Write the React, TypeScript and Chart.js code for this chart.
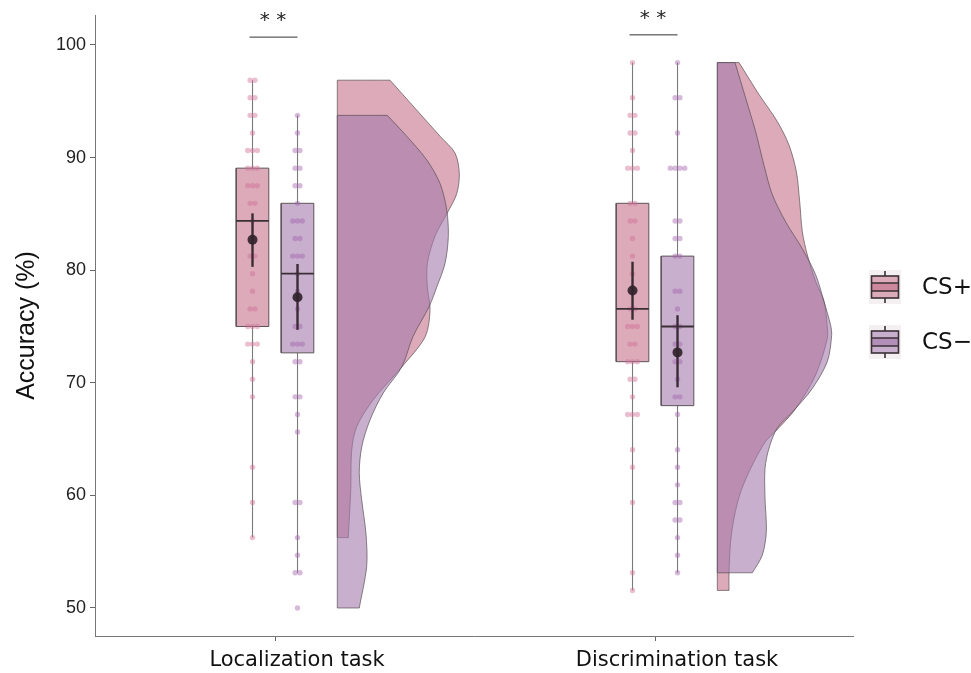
import React, { useEffect, useRef } from "react";
import { Chart, registerables } from "chart.js";

Chart.register(...registerables);

// ---------------- data ----------------
const categories = ["Localization task", "Discrimination task"];
const groups = ["CS+", "CS\u2212"];
const yTicks = [50, 60, 70, 80, 90, 100];

// individual accuracies (%)
const locCSplus = [96.875, 96.875, 95.3125, 95.3125, 93.75, 93.75, 92.1875, 90.625, 90.625, 90.625, 89.0625, 89.0625, 89.0625, 87.5, 87.5, 87.5, 85.9375, 85.9375, 84.375, 82.8125, 81.25, 81.25, 79.6875, 78.125, 76.5625, 76.5625, 75, 75, 75, 73.4375, 73.4375, 73.4375, 71.875, 70.3125, 68.75, 62.5, 59.375, 56.25];
const locCSminus = [93.75, 92.1875, 90.625, 90.625, 89.0625, 89.0625, 87.5, 87.5, 85.9375, 84.375, 84.375, 84.375, 82.8125, 82.8125, 81.25, 81.25, 81.25, 79.6875, 78.125, 76.5625, 75, 75, 73.4375, 73.4375, 73.4375, 71.875, 71.875, 68.75, 68.75, 67.1875, 65.625, 59.375, 59.375, 56.25, 54.6875, 53.125, 53.125, 50];
const discCSplus = [98.4375, 95.3125, 93.75, 93.75, 92.1875, 92.1875, 90.625, 89.0625, 89.0625, 89.0625, 85.9375, 85.9375, 84.375, 84.375, 82.8125, 81.25, 79.6875, 76.5625, 76.5625, 75, 75, 75, 73.4375, 73.4375, 71.875, 71.875, 71.875, 70.3125, 70.3125, 68.75, 67.1875, 67.1875, 67.1875, 64.0625, 62.5, 59.375, 53.125, 51.5625];
const discCSminus = [98.4375, 95.3125, 95.3125, 92.1875, 89.0625, 89.0625, 89.0625, 89.0625, 84.375, 84.375, 82.8125, 82.8125, 81.25, 81.25, 78.125, 78.125, 76.5625, 75, 75, 73.4375, 73.4375, 71.875, 71.875, 70.3125, 68.75, 68.75, 67.1875, 64.0625, 62.5, 60.9375, 59.375, 59.375, 57.8125, 57.8125, 56.25, 54.6875, 53.125];

// box statistics, order: loc CS+, loc CS-, disc CS+, disc CS-
const whiskerLow = [56.25, 53.125, 51.5625, 53.125];
const q1 = [75, 72.66, 71.875, 67.97];
const median = [84.375, 79.69, 76.5625, 75];
const q3 = [89.0625, 85.94, 85.94, 81.25];
const whiskerHigh = [96.875, 93.75, 98.4375, 98.4375];

// mean and 95% CI
const means = [82.7, 77.6, 78.2, 72.7];
const ciLow = [80.3, 74.7, 75.6, 69.6];
const ciHigh = [85.05, 80.55, 80.75, 76.0];

// significance annotations per task
const sigLabels = ["* *", "* *"];
const sigLineValue = [100.7, 100.9];

// density estimates: [accuracy, relative density]
const locCSplusDensity: [number, number][] = [
  [56.25, 0.09], [60.5, 0.11], [64.0, 0.118], [66.1, 0.159], [68.5, 0.295], [71.4, 0.528], [74.1, 0.721],
  [76.5, 0.76], [78.5, 0.738], [80.6, 0.738], [83.0, 0.8], [85.05, 0.9], [86.8, 0.979], [88.6, 1.0],
  [90.4, 0.965], [91.9, 0.842], [96.875, 0.432],
];
const locCSminusDensity: [number, number][] = [
  [50, 0.18], [53.7, 0.241], [56.6, 0.235], [59.6, 0.2], [62.0, 0.18], [64.3, 0.2], [66.7, 0.268],
  [69.1, 0.377], [71.4, 0.528], [74.1, 0.62], [76.8, 0.754], [78.5, 0.815], [80.6, 0.883], [83.0, 0.91],
  [85.35, 0.897], [87.7, 0.842], [89.8, 0.733], [91.9, 0.569], [93.75, 0.41],
];
const discCSplusDensity: [number, number][] = [
  [51.5625, 0.096], [53.1, 0.096], [55.9, 0.109], [58.0, 0.137], [60.3, 0.191], [62.7, 0.287], [64.8, 0.396],
  [65.7, 0.478], [67.7, 0.642], [70.7, 0.806], [73.95, 0.902], [75.1, 0.9], [77.2, 0.875], [79.0, 0.806],
  [81.35, 0.738], [83.4, 0.697], [86.1, 0.675], [88.75, 0.648], [91.1, 0.588], [93.2, 0.492], [95.6, 0.342],
  [98.4375, 0.178],
];
const discCSminusDensity: [number, number][] = [
  [53.125, 0.287], [54.7, 0.369], [56.8, 0.402], [59.75, 0.391], [62.4, 0.391], [64.2, 0.424], [66.0, 0.492],
  [67.4, 0.615], [69.5, 0.779], [71.9, 0.902], [74.2, 0.937], [75.1, 0.929], [77.2, 0.875], [79.6, 0.806],
  [81.9, 0.697], [84.3, 0.56], [86.7, 0.451], [89.3, 0.383], [92.3, 0.314], [95.3, 0.232], [98.4375, 0.145],
];

const seriesPoints = [locCSplus, locCSminus, discCSplus, discCSminus];
const seriesDensity = [locCSplusDensity, locCSminusDensity, discCSplusDensity, discCSminusDensity];
const seriesCat = [0, 0, 1, 1];
const seriesGroup = [0, 1, 0, 1];

// ---------------- layout / style ----------------
const X_MIN = 0.5263;
const X_MAX = 2.521;
const Y_MIN = 47.513;
const Y_MAX = 102.664;
const UNIT = 380; // px per category step, used to convert sizes
const DODGE = 22.5 / UNIT;
const BOX_HALF = 16.3 / UNIT;
const VIOLIN_GAP = 62.3 / UNIT;
const VIOLIN_SCALE = 122 / UNIT;
const JITTER = 4.8 / UNIT;
const SIG_HALF = 24 / UNIT;

const FILL = ["rgba(197,113,138,0.6)", "rgba(163,122,172,0.6)"];
const FILL_SOLID = ["rgb(220,171,186)", "rgb(200,175,205)"];
const POINT = ["rgba(210,110,150,0.45)", "rgba(165,100,175,0.45)"];
const OUTLINE = "rgba(85,75,80,0.85)";
const DARK = "#3a2c35";

function buildDatasets() {
  const ds: any[] = [];
  const line = (data: any[], opts: any) => ({
    type: "line",
    data,
    pointRadius: 0,
    borderWidth: 1,
    fill: false,
    tension: 0,
    ...opts,
  });

  // densities (half violins); corner points are repeated so the curve keeps sharp corners
  for (let s = 0; s < 4; s++) {
    const g = seriesGroup[s];
    const edge = seriesCat[s] + 1 + VIOLIN_GAP;
    const dens = seriesDensity[s];
    const lo = dens[0][0];
    const hi = dens[dens.length - 1][0];
    const curve = dens.map(([v, d]) => ({ x: edge + d * VIOLIN_SCALE, y: v }));
    const first = curve[0];
    const last = curve[curve.length - 1];
    const pts = [
      { x: edge, y: lo },
      { x: first.x, y: first.y },
      ...curve,
      { x: last.x, y: last.y },
      { x: edge, y: hi },
    ];
    ds.push(line(pts, { fill: "shape", backgroundColor: FILL[g], borderColor: OUTLINE, borderWidth: 0.8, tension: 0.3 }));
    ds.push(line([{ x: edge, y: lo }, { x: edge, y: hi }], { borderColor: OUTLINE, borderWidth: 0.8 }));
  }

  // boxes
  for (let s = 0; s < 4; s++) {
    const g = seriesGroup[s];
    const c = seriesCat[s] + 1 + (g === 0 ? -DODGE : DODGE);
    ds.push(line([{ x: c, y: q3[s] }, { x: c, y: whiskerHigh[s] }], { borderColor: "#7a7a7a", borderWidth: 1.1 }));
    ds.push(line([{ x: c, y: whiskerLow[s] }, { x: c, y: q1[s] }], { borderColor: "#7a7a7a", borderWidth: 1.1 }));
    ds.push(
      line(
        [
          { x: c - BOX_HALF, y: q1[s] },
          { x: c + BOX_HALF, y: q1[s] },
          { x: c + BOX_HALF, y: q3[s] },
          { x: c - BOX_HALF, y: q3[s] },
          { x: c - BOX_HALF, y: q1[s] },
        ],
        { fill: "shape", backgroundColor: FILL[g], borderColor: "#5e5459", borderWidth: 1 }
      )
    );
  }

  // jittered individual points
  for (let s = 0; s < 4; s++) {
    const g = seriesGroup[s];
    const c = seriesCat[s] + 1 + (g === 0 ? -DODGE : DODGE);
    const counts: Record<string, number> = {};
    seriesPoints[s].forEach((v) => (counts[v] = (counts[v] || 0) + 1));
    const seen: Record<string, number> = {};
    const data = seriesPoints[s].map((v) => {
      const k = seen[v] || 0;
      seen[v] = k + 1;
      const n = counts[v];
      return { x: c + (k - (n - 1) / 2) * JITTER, y: v };
    });
    ds.push({
      type: "scatter",
      data,
      pointRadius: 2.7,
      pointBackgroundColor: POINT[g],
      pointBorderWidth: 0,
      showLine: false,
    });
  }

  // medians, CI bars, means
  for (let s = 0; s < 4; s++) {
    const g = seriesGroup[s];
    const c = seriesCat[s] + 1 + (g === 0 ? -DODGE : DODGE);
    ds.push(line([{ x: c - BOX_HALF, y: median[s] }, { x: c + BOX_HALF, y: median[s] }], { borderColor: "#3a3036", borderWidth: 1.8 }));
    ds.push(line([{ x: c, y: ciLow[s] }, { x: c, y: ciHigh[s] }], { borderColor: DARK, borderWidth: 2.4 }));
    ds.push({
      type: "scatter",
      data: [{ x: c, y: means[s] }],
      pointRadius: 5,
      pointBackgroundColor: "rgba(50,36,45,0.92)",
      pointBorderWidth: 0,
      showLine: false,
    });
  }

  // significance lines
  for (let i = 0; i < categories.length; i++) {
    const c = i + 1 - 1.5 / UNIT;
    ds.push(line([{ x: c - SIG_HALF, y: sigLineValue[i] }, { x: c + SIG_HALF, y: sigLineValue[i] }], { borderColor: "#333", borderWidth: 1 }));
  }

  ds.forEach((d, i) => (d.order = ds.length - i));
  return ds;
}

const annotationPlugin = {
  id: "annotations",
  afterDraw(chart: any) {
    const { ctx, chartArea } = chart;
    const x = chart.scales.x;
    const y = chart.scales.y;
    ctx.save();
    // significance stars
    ctx.font = '20px "DejaVu Sans"';
    ctx.fillStyle = "#222";
    ctx.textAlign = "center";
    ctx.textBaseline = "alphabetic";
    categories.forEach((_, i) => {
      const cx = x.getPixelForValue(i + 1) - 2;
      const ly = y.getPixelForValue(sigLineValue[i]);
      ctx.fillText(sigLabels[i], cx, ly - 11);
    });

    // legend
    const kx = chartArea.right + 32;
    groups.forEach((name, g) => {
      const cy = chartArea.top + 272 + g * 55;
      ctx.fillStyle = "#f4f0f2";
      ctx.fillRect(kx - 16, cy - 17, 32, 34);
      ctx.strokeStyle = "#3a3036";
      ctx.lineWidth = 1.6;
      ctx.beginPath();
      ctx.moveTo(kx, cy - 16);
      ctx.lineTo(kx, cy - 11);
      ctx.moveTo(kx, cy + 11);
      ctx.lineTo(kx, cy + 16);
      ctx.stroke();
      ctx.fillStyle = FILL_SOLID[g];
      ctx.fillRect(kx - 13.5, cy - 11, 27, 22);
      ctx.fillStyle = FILL[g];
      ctx.fillRect(kx - 13.5, cy - 4, 27, 8);
      ctx.strokeRect(kx - 13.5, cy - 11, 27, 22);
      ctx.beginPath();
      ctx.moveTo(kx - 13.5, cy - 4);
      ctx.lineTo(kx + 13.5, cy - 4);
      ctx.moveTo(kx - 13.5, cy + 4);
      ctx.lineTo(kx + 13.5, cy + 4);
      ctx.stroke();

      ctx.fillStyle = "#111";
      ctx.font = '23px "DejaVu Sans"';
      ctx.textAlign = "left";
      ctx.textBaseline = "middle";
      ctx.fillText(name, kx + 37, cy + 1);
    });
    ctx.restore();
  },
};

export default function App() {
  const ref = useRef<HTMLCanvasElement | null>(null);
  useEffect(() => {
    if (!ref.current) return;
    const chart = new Chart(ref.current, {
      type: "scatter",
      data: { datasets: buildDatasets() },
      options: {
        animation: false,
        responsive: false,
        events: [],
        layout: { padding: { left: 0, right: 118, top: 15, bottom: 0 } },
        plugins: { legend: { display: false }, tooltip: { enabled: false } },
        scales: {
          x: {
            type: "linear",
            min: X_MIN,
            max: X_MAX,
            afterBuildTicks: (s: any) => {
              s.ticks = categories.map((_, i) => ({ value: i + 1 }));
            },
            ticks: {
              callback: (v: any) => categories[Math.round(Number(v)) - 1] ?? "",
              font: { family: "DejaVu Sans", size: 21 },
              color: "#111",
              labelOffset: 22,
              padding: 7,
              maxRotation: 0,
              autoSkip: false,
            },
            grid: { drawOnChartArea: false, tickLength: 5, color: "#666" },
            border: { color: "#777", width: 1 },
            afterFit: (s: any) => {
              s.height = 37;
            },
          },
          y: {
            type: "linear",
            min: Y_MIN,
            max: Y_MAX,
            afterBuildTicks: (s: any) => {
              s.ticks = yTicks.map((v) => ({ value: v }));
            },
            ticks: { font: { family: "Liberation Sans", size: 18 }, color: "#222", padding: 4 },
            grid: { drawOnChartArea: false, tickLength: 5, color: "#666" },
            border: { color: "#777", width: 1 },
            title: {
              display: true,
              text: "Accuracy (%)",
              font: { family: "Liberation Sans", size: 25 },
              color: "#111",
              padding: { top: 12, bottom: 0 },
            },
            afterFit: (s: any) => {
              s.width = 95;
            },
          },
        },
      },
      plugins: [annotationPlugin],
    } as any);
    return () => chart.destroy();
  }, []);
  return (
    <div style={{ position: "absolute", left: 0, top: 0, width: 971, height: 673, background: "#fff" }}>
      <canvas ref={ref} width={971} height={673} />
    </div>
  );
}
